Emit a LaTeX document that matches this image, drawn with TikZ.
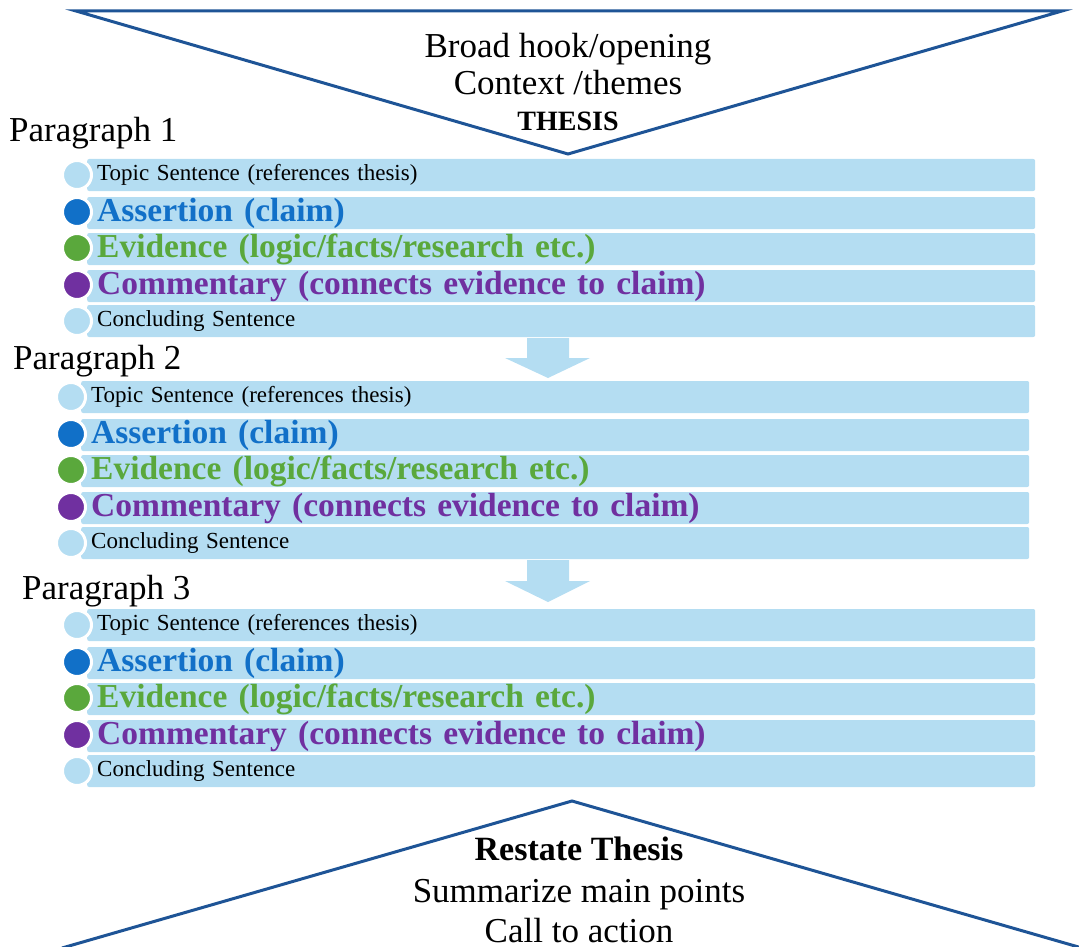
\documentclass[tikz,border=0pt]{standalone}
\usepackage{fontspec}
\setmainfont{Liberation Serif}
\definecolor{barblue}{RGB}{180,221,242}
\definecolor{frameblue}{RGB}{30,84,150}
\definecolor{claimblue}{RGB}{17,112,200}
\definecolor{evidgreen}{RGB}{90,168,60}
\definecolor{commpurple}{RGB}{112,48,160}
\begin{document}
\begin{tikzpicture}[x=1pt, y=-1pt,
    frame/.style={draw=frameblue, line width=3pt, line join=miter},
    big/.style={font=\fontsize{35}{37}\selectfont, inner sep=0pt},
    bar/.style={fill=barblue, rounded corners=2pt, anchor=west, text width=928pt,
        inner xsep=10pt, inner ysep=0pt, minimum height=32pt, align=left},
    small/.style={font=\fontsize{23}{23}\selectfont},
    claim/.style={font=\bfseries\fontsize{33.5}{34}\selectfont, text=claimblue},
    evid/.style={font=\bfseries\fontsize{33.5}{34}\selectfont, text=evidgreen},
    comm/.style={font=\bfseries\fontsize{33.5}{34}\selectfont, text=commpurple},
    dot/.style={circle, draw=white, line width=3pt, minimum size=29pt, inner sep=0pt}]
    \useasboundingbox (0,0) rectangle (1079,947);

    % introduction
    \draw[frame] (76,11) -- (1062,11) -- (568,154) -- cycle;
    \node[big, anchor=base] (hook) at (568,58) {Broad hook/opening};
    \node[big, anchor=base] (context) at (568,95) {Context /themes};
    \node[big, anchor=base, font=\bfseries\fontsize{28}{28}\selectfont] (thesis) at (568,131) {THESIS};

    % paragraph 1
    \node[big, anchor=base west] (para1) at (9,142) {Paragraph 1};
    \node[bar, small] (p1topic) at (87,175) {Topic Sentence (references thesis)};
    \node[bar, claim] (p1claim) at (87,213) {Assertion (claim)};
    \node[bar, evid] (p1evid) at (87,249) {Evidence (logic/facts/research etc.)};
    \node[bar, comm] (p1comm) at (87,286) {Commentary (connects evidence to claim)};
    \node[bar, small] (p1concl) at (87,321) {Concluding Sentence};
    \node[dot, fill=barblue] (p1dot1) at (77,175) {};
    \node[dot, fill=claimblue] (p1dot2) at (77,212) {};
    \node[dot, fill=evidgreen] (p1dot3) at (77,248) {};
    \node[dot, fill=commpurple] (p1dot4) at (77,285) {};
    \node[dot, fill=barblue] (p1dot5) at (77,321) {};

    \fill[barblue] (527,338) -- (569,338) -- (569,358) -- (590,358) -- (548,378) -- (505,358) -- (527,358) -- cycle;

    % paragraph 2
    \node[big, anchor=base west] (para2) at (13,369) {Paragraph 2};
    \node[bar, small] (p2topic) at (81,397) {Topic Sentence (references thesis)};
    \node[bar, claim] (p2claim) at (81,435) {Assertion (claim)};
    \node[bar, evid] (p2evid) at (81,471) {Evidence (logic/facts/research etc.)};
    \node[bar, comm] (p2comm) at (81,508) {Commentary (connects evidence to claim)};
    \node[bar, small] (p2concl) at (81,543) {Concluding Sentence};
    \node[dot, fill=barblue] (p2dot1) at (71,397) {};
    \node[dot, fill=claimblue] (p2dot2) at (71,434) {};
    \node[dot, fill=evidgreen] (p2dot3) at (71,470) {};
    \node[dot, fill=commpurple] (p2dot4) at (71,507) {};
    \node[dot, fill=barblue] (p2dot5) at (71,543) {};

    \fill[barblue] (527,560) -- (569,560) -- (569,581) -- (590,581) -- (548,602) -- (505,581) -- (527,581) -- cycle;

    % paragraph 3
    \node[big, anchor=base west] (para3) at (22,599) {Paragraph 3};
    \node[bar, small] (p3topic) at (87,625) {Topic Sentence (references thesis)};
    \node[bar, claim] (p3claim) at (87,663) {Assertion (claim)};
    \node[bar, evid] (p3evid) at (87,699) {Evidence (logic/facts/research etc.)};
    \node[bar, comm] (p3comm) at (87,736) {Commentary (connects evidence to claim)};
    \node[bar, small] (p3concl) at (87,771) {Concluding Sentence};
    \node[dot, fill=barblue] (p3dot1) at (77,625) {};
    \node[dot, fill=claimblue] (p3dot2) at (77,662) {};
    \node[dot, fill=evidgreen] (p3dot3) at (77,698) {};
    \node[dot, fill=commpurple] (p3dot4) at (77,735) {};
    \node[dot, fill=barblue] (p3dot5) at (77,771) {};

    % conclusion
    \draw[frame] (62,948) -- (572,801) -- (1082,948);
    \node[big, anchor=base, font=\bfseries\fontsize{34}{34}\selectfont] (restate) at (579,860) {Restate Thesis};
    \node[big, anchor=base] (summary) at (579,902) {Summarize main points};
    \node[big, anchor=base] (action) at (579,942) {Call to action};
\end{tikzpicture}
\end{document}
